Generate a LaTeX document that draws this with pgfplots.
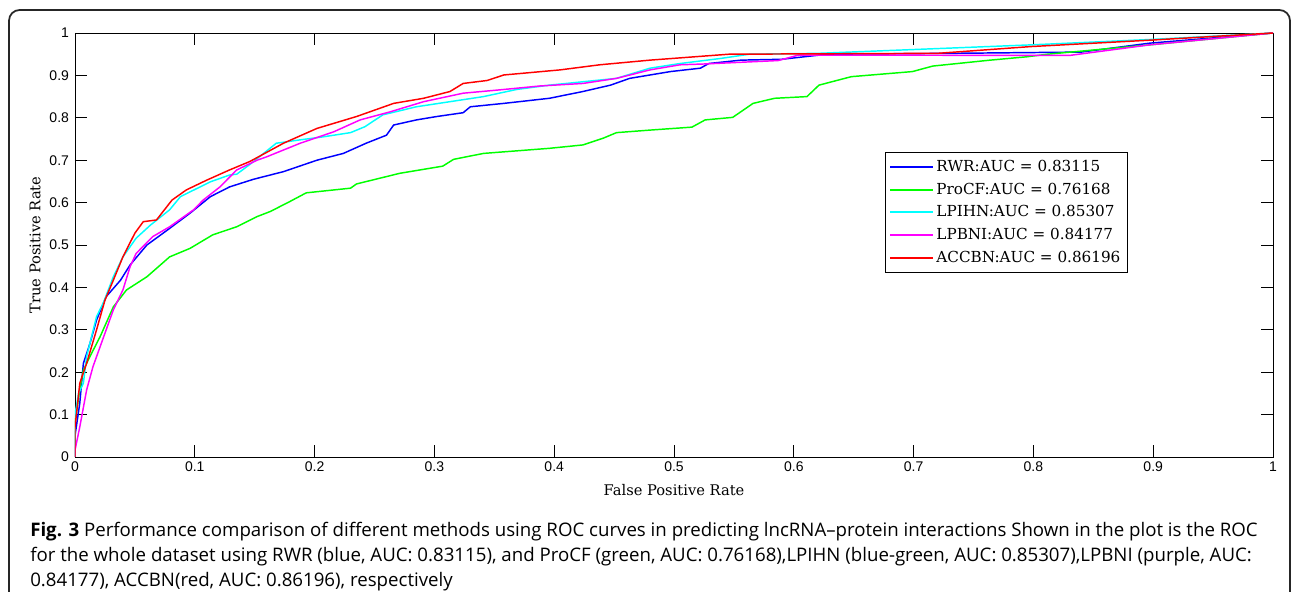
\documentclass[border=0pt]{standalone}
\usepackage{fontspec}
\setmainfont{DejaVu Serif}
\setsansfont{Liberation Sans}
\newfontfamily\capfont{Open Sans}
\usepackage{pgfplots}
\pgfplotsset{compat=1.18}
\definecolor{mblue}{rgb}{0,0,1}
\definecolor{mgreen}{rgb}{0,1,0}
\definecolor{mcyan}{rgb}{0,1,1}
\definecolor{mmagenta}{rgb}{1,0,1}
\definecolor{mred}{rgb}{1,0,0}

% ROC curves
\pgfplotstableread{
x y
0 0
0 0.05
0.004 0.127
0.007 0.221
0.0125 0.268
0.018 0.323
0.026 0.378
0.038 0.417
0.046 0.453
0.060 0.500
0.077 0.535
0.096 0.575
0.113 0.614
0.129 0.637
0.149 0.655
0.174 0.673
0.202 0.700
0.224 0.716
0.243 0.740
0.260 0.759
0.266 0.783
0.285 0.795
0.302 0.803
0.324 0.812
0.330 0.826
0.358 0.834
0.396 0.846
0.424 0.862
0.447 0.877
0.463 0.893
0.497 0.909
0.522 0.917
0.529 0.928
0.556 0.936
0.590 0.938
0.628 0.950
0.730 0.952
0.840 0.955
0.897 0.976
1 1
}\rwr
\pgfplotstableread{
x y
0 0
0 0.08
0.004 0.160
0.007 0.205
0.0125 0.237
0.021 0.284
0.032 0.354
0.043 0.394
0.060 0.425
0.079 0.472
0.096 0.492
0.115 0.524
0.135 0.543
0.152 0.567
0.163 0.579
0.179 0.602
0.193 0.623
0.230 0.634
0.235 0.644
0.271 0.669
0.307 0.686
0.316 0.702
0.341 0.716
0.396 0.728
0.424 0.736
0.441 0.752
0.452 0.765
0.480 0.771
0.515 0.778
0.526 0.795
0.549 0.801
0.566 0.834
0.584 0.846
0.611 0.850
0.621 0.877
0.648 0.897
0.699 0.909
0.716 0.922
0.764 0.936
0.795 0.944
0.812 0.950
0.897 0.972
1 1
}\procf
\pgfplotstableread{
x y
0 0
0 0.10
0.003 0.150
0.007 0.174
0.0097 0.237
0.018 0.331
0.024 0.366
0.032 0.425
0.040 0.472
0.051 0.516
0.063 0.547
0.079 0.583
0.088 0.614
0.113 0.649
0.129 0.665
0.135 0.667
0.146 0.690
0.168 0.740
0.188 0.748
0.207 0.755
0.230 0.765
0.242 0.779
0.257 0.807
0.285 0.826
0.313 0.838
0.341 0.850
0.369 0.867
0.396 0.877
0.424 0.885
0.452 0.893
0.480 0.917
0.505 0.928
0.539 0.940
0.563 0.950
0.620 0.952
0.798 0.972
0.900 0.985
1 1
}\lpihn
\pgfplotstableread{
x y
0 0
0 0.016
0.004 0.071
0.0097 0.158
0.015 0.213
0.024 0.284
0.032 0.347
0.040 0.394
0.046 0.449
0.051 0.480
0.065 0.520
0.079 0.543
0.099 0.583
0.107 0.606
0.121 0.637
0.135 0.677
0.152 0.700
0.160 0.708
0.188 0.740
0.216 0.767
0.238 0.795
0.263 0.814
0.291 0.838
0.324 0.858
0.355 0.866
0.388 0.875
0.424 0.881
0.452 0.893
0.480 0.913
0.505 0.925
0.526 0.927
0.587 0.935
0.604 0.948
0.830 0.947
0.897 0.972
1 1
}\lpbni
\pgfplotstableread{
x y
0 0
0 0.07
0.004 0.174
0.0097 0.221
0.018 0.300
0.025 0.370
0.032 0.417
0.040 0.472
0.050 0.528
0.057 0.555
0.068 0.559
0.081 0.606
0.093 0.630
0.110 0.653
0.129 0.677
0.146 0.697
0.174 0.740
0.202 0.775
0.235 0.803
0.266 0.834
0.291 0.846
0.313 0.862
0.324 0.881
0.344 0.888
0.358 0.901
0.405 0.913
0.438 0.925
0.480 0.936
0.546 0.950
0.720 0.952
0.798 0.968
0.897 0.983
1 1
}\accbn

\begin{document}
\begin{tikzpicture}[x=0.75pt,y=0.75pt]
\useasboundingbox (0,0) rectangle (1293,592);
\draw[line width=1.3pt, black!85, rounded corners=8pt] (9,-30) rectangle (1290,582);
\begin{axis}[
    at={(56.25pt,101.25pt)}, anchor=south west,
    scale only axis, width=898.5pt, height=318pt,
    xmin=0, xmax=1, ymin=0, ymax=1,
    xtick={0,0.1,0.2,0.3,0.4,0.5,0.6,0.7,0.8,0.9,1},
    ytick={0,0.1,0.2,0.3,0.4,0.5,0.6,0.7,0.8,0.9,1},
    xticklabels={0,0.1,0.2,0.3,0.4,0.5,0.6,0.7,0.8,0.9,1},
    yticklabels={0,0.1,0.2,0.3,0.4,0.5,0.6,0.7,0.8,0.9,1},
    tick align=inside, major tick length=9pt,
    every tick/.style={black, line width=0.6pt},
    axis line style={black, line width=0.6pt},
    ticklabel style={font=\sffamily\fontsize{10.5}{12}\selectfont},
    yticklabel style={xshift=-1pt},
    xlabel={False Positive Rate}, ylabel={True Positive Rate},
    every axis x label/.style={at={(axis description cs:0.5,-0.079)}, anchor=center,
        font=\fontsize{11}{13}\selectfont},
    every axis y label/.style={at={(axis description cs:-0.0334,0.5)}, rotate=90, anchor=center,
        font=\fontsize{11}{13}\selectfont},
    legend style={at={(0.676,0.719)}, anchor=north west, draw=black,
        fill=white, font=\fontsize{11.4}{13}\selectfont, inner xsep=3pt, inner ysep=4pt,
        row sep=3pt, cells={anchor=west}},
    legend cell align=left,
    legend image code/.code={\draw[#1, line width=1.5pt] (0pt,0pt) -- (32pt,0pt);},
    every axis plot/.append style={line width=1.1pt},
]
\addplot[mblue] table {\rwr};
\addplot[mgreen] table {\procf};
\addplot[mcyan] table {\lpihn};
\addplot[mmagenta] table {\lpbni};
\addplot[mred] table {\accbn};
\legend{RWR:AUC = 0.83115, ProCF:AUC = 0.76168, LPIHN:AUC = 0.85307, LPBNI:AUC = 0.84177, ACCBN:AUC = 0.86196}
\end{axis}
\begin{scope}[every node/.style={anchor=base west, inner sep=0pt, font=\capfont\fontsize{14}{16}\selectfont}]
\node at (30,55) {\textbf{Fig. 3} Performance comparison of different methods using ROC curves in predicting lncRNA–protein interactions Shown in the plot is the ROC};
\node at (30,30) {for the whole dataset using RWR (blue, AUC: 0.83115), and ProCF (green, AUC: 0.76168),LPIHN (blue-green, AUC: 0.85307),LPBNI (purple, AUC:};
\node at (30,5) {0.84177), ACCBN(red, AUC: 0.86196), respectively};
\end{scope}
\end{tikzpicture}
\end{document}
